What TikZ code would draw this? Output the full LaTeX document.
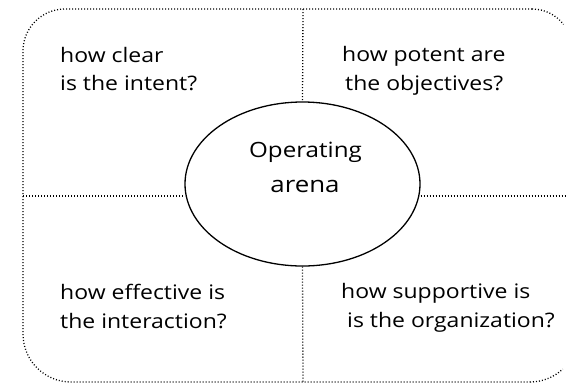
\documentclass[tikz,border=0pt]{standalone}
\usepackage{fontspec}
\setmainfont{Open Sans}[FakeStretch=1.15]
\usetikzlibrary{shapes.geometric}
\tikzset{
  frame/.style={line width=1.3pt, dash pattern=on 1pt off 2pt},
  divider/.style={line width=1.3pt, dash pattern=on 1pt off 2pt},
  question/.style={inner sep=0pt, anchor=base west, align=left, font=\fontsize{20}{28.5}\selectfont},
  arena/.style={ellipse, draw, line width=1.3pt, minimum width=235pt, minimum height=164pt, inner sep=0pt, align=center}
}
\begin{document}
\begin{tikzpicture}[x=1pt,y=-1pt]
\useasboundingbox (0,0) rectangle (566,384);
\fill[white] (0,0) rectangle (566,384);
% frame: a rounded box whose right side lies just outside the picture
\coordinate (fTR) at (532,9);
\coordinate (fBR) at (530,382);
\draw[frame] (fTR) [rounded corners=42pt] -- (23,9) [rounded corners=48pt] -- (23,382) -- (fBR);
\draw[frame] (fTR) arc[start angle=-90, end angle=-38, radius=40];
\draw[frame] (fBR) arc[start angle=90, end angle=47, radius=48];
% center ellipse
\node[arena] (arena) at (302.5,184) {};
\node[inner sep=0pt, anchor=base, font=\fontsize{21}{21}\selectfont] (op) at (305.5,157) {Operating};
\node[inner sep=0pt, anchor=base, font=\fontsize{22.5}{22.5}\selectfont] (ar) at (305,192) {arena};
% dividers
\coordinate (topmid) at (303,9);
\coordinate (botmid) at (303,382);
\coordinate (leftmid) at (23,196);
\coordinate (rightmid) at (566,196);
\draw[divider] (topmid) -- (arena.north);
\draw[divider] (arena.south) -- (botmid);
\draw[divider] (leftmid) -- (arena.west |- leftmid);
\draw[divider] (arena.east |- rightmid) -- (rightmid);
% questions
\node[question] (q1) at (60,90.5) {how clear\\is the intent?};
\node[question] (q2) at (342,90) {how potent are\\\hspace*{3pt}the objectives?};
\node[question] (q3) at (60,328) {how effective is\\the interaction?};
\node[question] (q4) at (341,327) {how supportive is\\\hspace*{6pt}is the organization?};
\end{tikzpicture}
\end{document}
